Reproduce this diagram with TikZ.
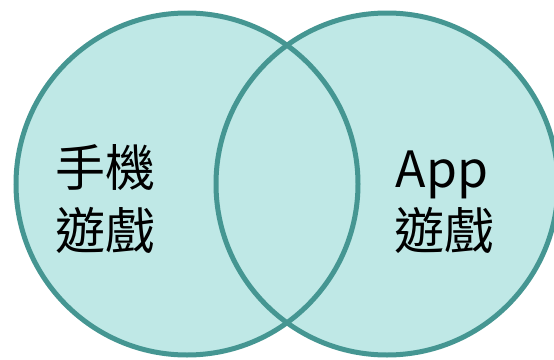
\documentclass[tikz,border=0pt]{standalone}
\usepackage{fontspec}
\setmainfont{Noto Sans CJK TC}
\definecolor{ringc}{RGB}{69,150,146}
\definecolor{fillc}{RGB}{191,232,230}
\begin{document}
\begin{tikzpicture}[x=1pt,y=-1pt,
  lbl/.style={anchor=base,inner sep=0pt,font=\fontsize{50}{60}\selectfont,text=black},
  ring/.style={draw=ringc,line width=5pt}]
\useasboundingbox (0,0) rectangle (554,359);
\clip (0,0) rectangle (554,359);
\coordinate (LC) at (187,184);
\coordinate (RC) at (387,184);
\fill[fillc] (LC) circle[radius=171];
\fill[fillc] (RC) circle[radius=171];
\draw[ring] (LC) circle[radius=171];
\draw[ring] (RC) circle[radius=171];
\node[lbl] (l1) at (105,186) {手機};
\node[lbl] (l2) at (105,249) {遊戲};
\node[lbl] (r1) at (442,187) {App};
\node[lbl] (r2) at (444,249) {遊戲};
\end{tikzpicture}
\end{document}
